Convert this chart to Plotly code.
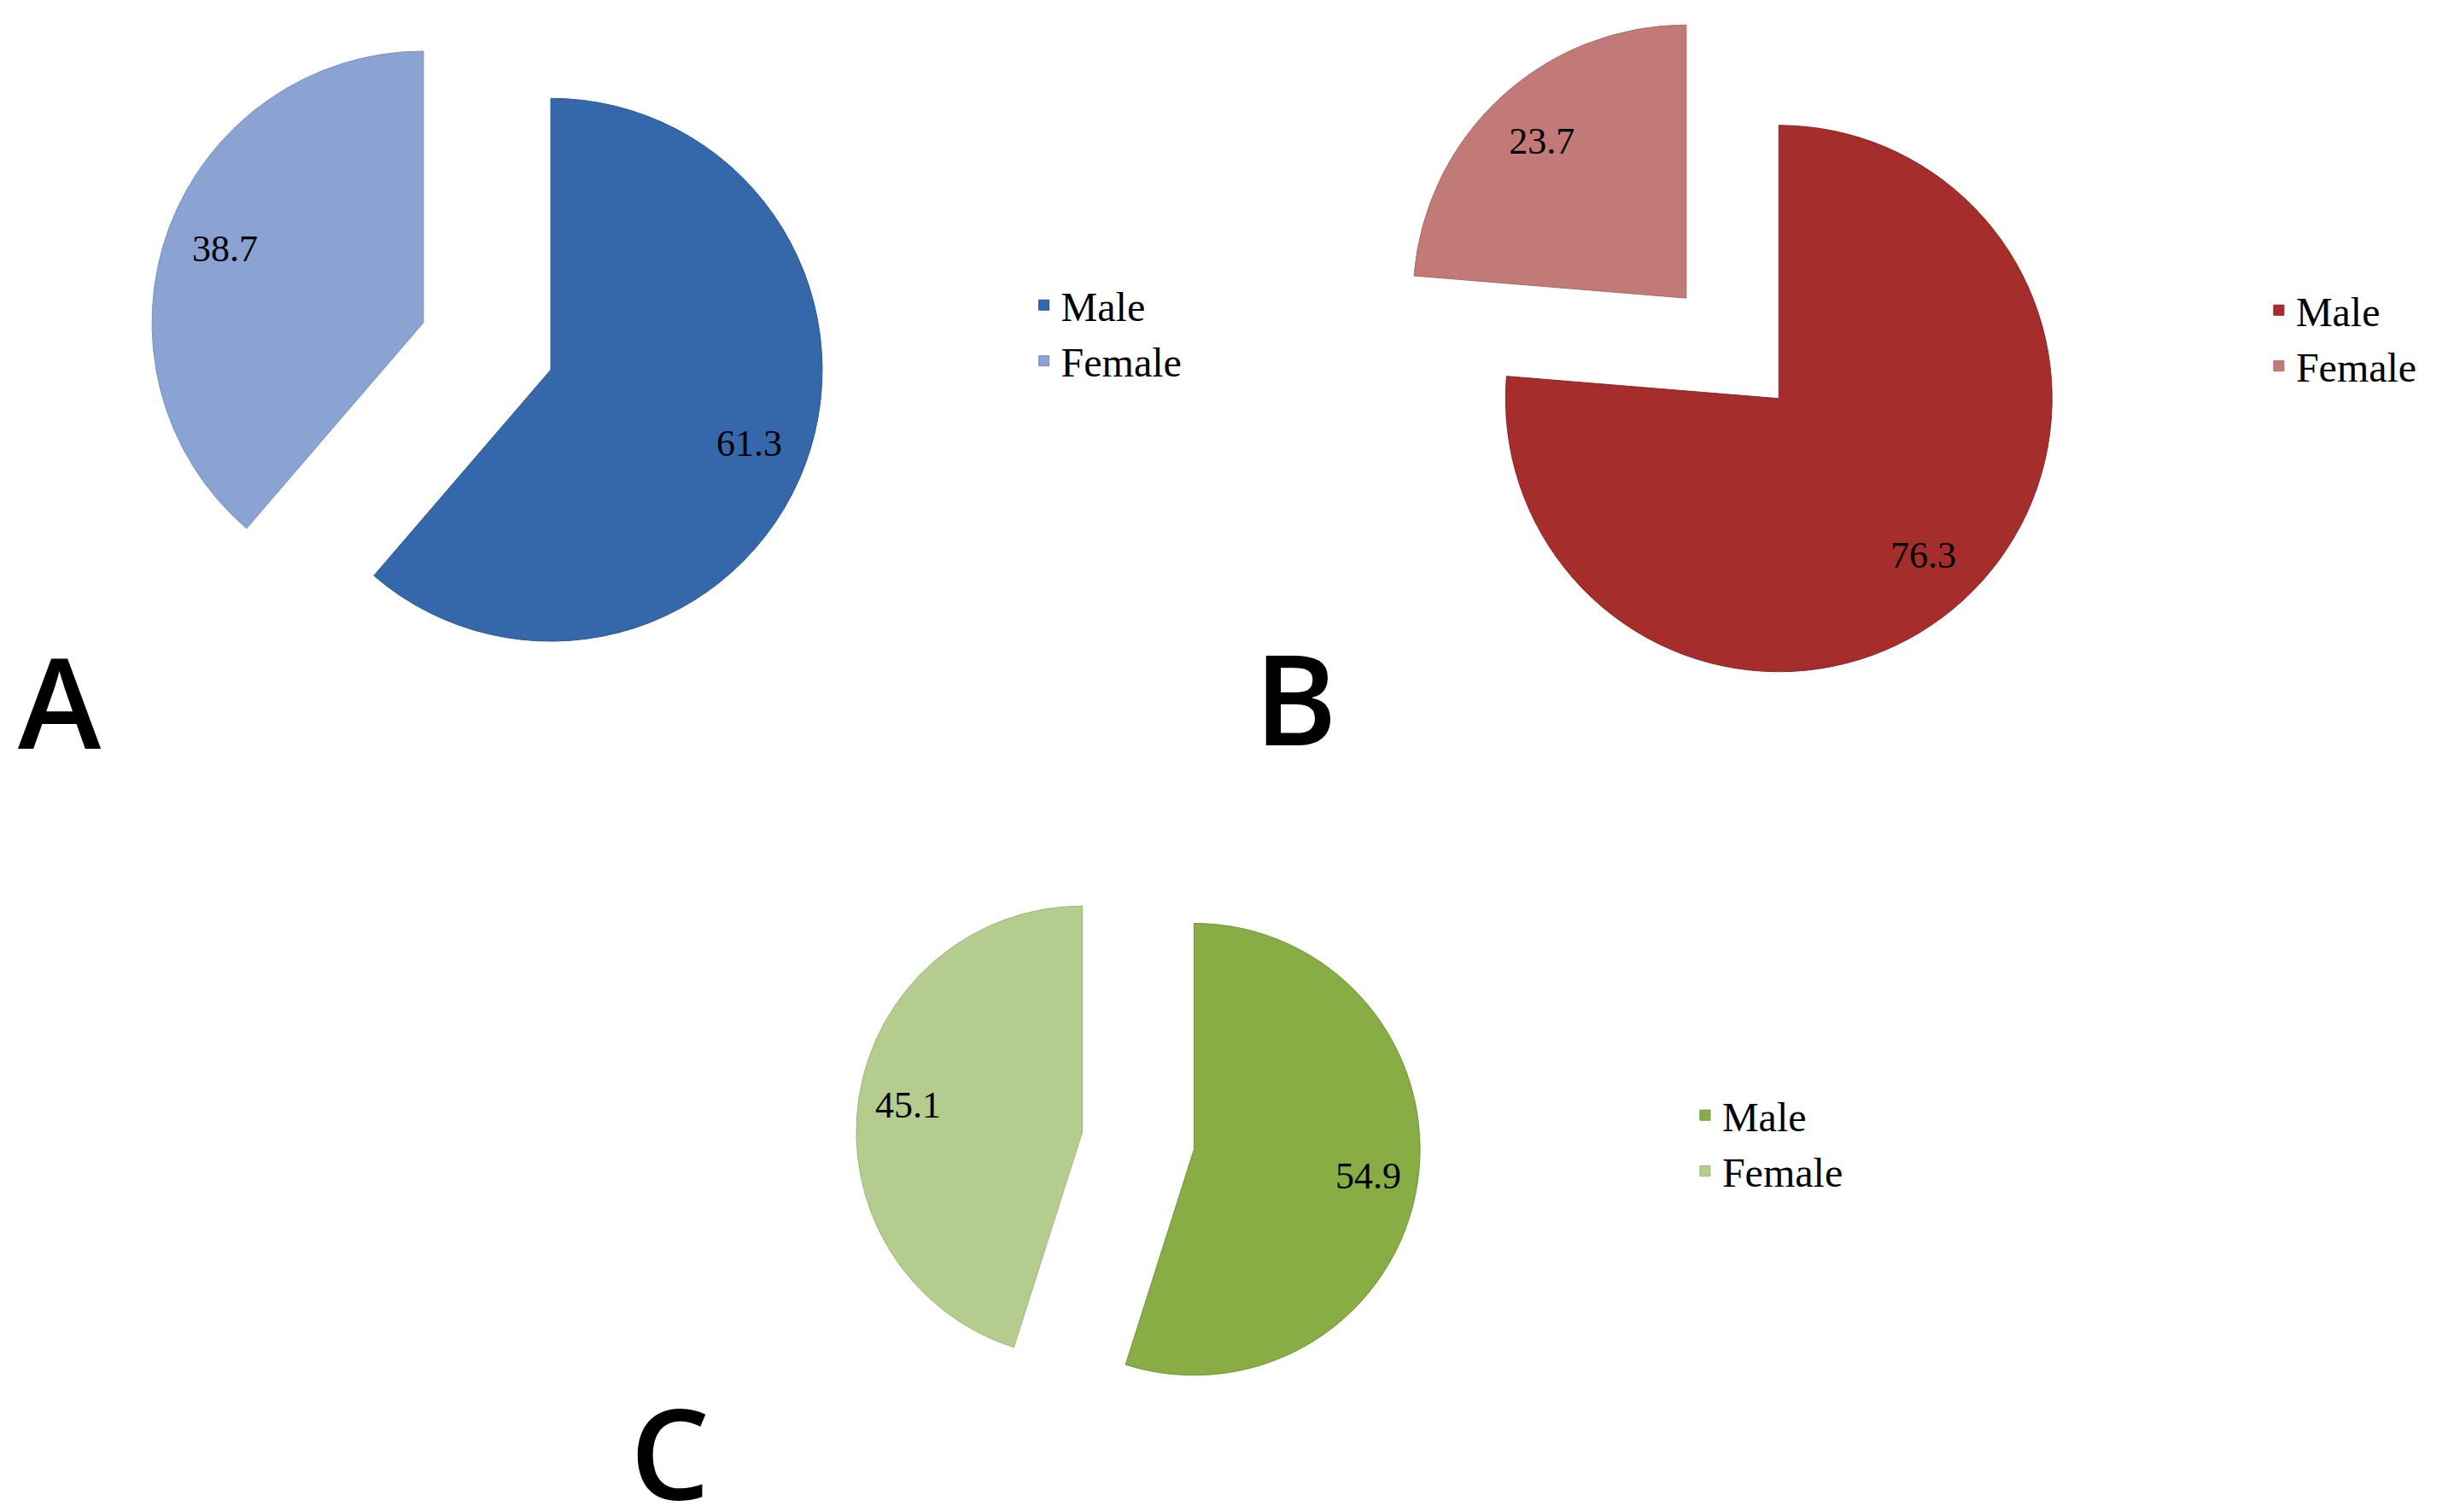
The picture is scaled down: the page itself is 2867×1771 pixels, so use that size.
import plotly.graph_objects as go

labels = ['Male', 'Female']
values_a = [61.3, 38.7]
values_b = [76.3, 23.7]
values_c = [54.9, 45.1]
panel_letters = ['A', 'B', 'C']

colors_a = ['#3567ab', '#8aa3d2']
colors_b = ['#a52e2d', '#c27a78']
colors_c = ['#89ad45', '#b4cd8e']
edges_a = ['#2d5893', '#7a92bd']
edges_b = ['#872626', '#a86b69']
edges_c = ['#739238', '#9db67a']

W, H = 2851, 1755
label_font = dict(family='Liberation Serif', size=44, color='black')
legend_font = dict(family='Liberation Serif', size=48, color='black')


def make_pie(values, colors, edges, domain, legend, group):
    # the filled pie itself, no labels on it
    return go.Pie(
        labels=labels, values=values, sort=False, direction='clockwise', rotation=0,
        pull=[0.25, 0.25],
        marker=dict(colors=colors, line=dict(color=edges, width=1)),
        textinfo='none', domain=domain, legend=legend, legendgroup=group,
        hoverinfo='label+value'
    )


def make_text_ring(values, domain):
    # transparent donut on top, so the values sit near the outer edge like Excel
    return go.Pie(
        labels=labels, values=values, sort=False, direction='clockwise', rotation=0,
        pull=[0.25, 0.25], hole=0.56,
        marker=dict(colors=['rgba(0,0,0,0)', 'rgba(0,0,0,0)'], line=dict(width=0)),
        textinfo='value', textposition='inside', insidetextorientation='horizontal',
        textfont=label_font, domain=domain, showlegend=False, hoverinfo='skip'
    )


dom_a = dict(x=[0.0579, 0.3367], y=[0.547, 1.0])
dom_b = dict(x=[0.5686, 0.8492], y=[0.5442, 1.0])
dom_c = dict(x=[0.3487, 0.5808], y=[0.0547, 0.4319])

fig = go.Figure()
fig.add_trace(make_pie(values_a, colors_a, edges_a, dom_a, 'legend', 'A'))
fig.add_trace(make_pie(values_b, colors_b, edges_b, dom_b, 'legend2', 'B'))
fig.add_trace(make_pie(values_c, colors_c, edges_c, dom_c, 'legend3', 'C'))
fig.add_trace(make_text_ring(values_a, dom_a))
fig.add_trace(make_text_ring(values_b, dom_b))
fig.add_trace(make_text_ring(values_c, dom_c))

leg = dict(font=legend_font, bgcolor='rgba(0,0,0,0)', xanchor='left', yanchor='middle',
           orientation='v', traceorder='normal')

fig.update_layout(
    width=W, height=H,
    margin=dict(l=0, r=0, t=0, b=0),
    paper_bgcolor='white', plot_bgcolor='white',
    showlegend=True,
    legend=dict(leg, x=0.419, y=0.7823),
    legend2=dict(leg, x=0.9263, y=0.7789),
    legend3=dict(leg, x=0.6906, y=0.2416),
)

letter_pos = [(0.0217, 0.5373), (0.5296, 0.5396), (0.2722, 0.0359)]
for letter, (lx, ly) in zip(panel_letters, letter_pos):
    fig.add_annotation(text=letter, x=lx, y=ly, xref='paper', yref='paper',
                       xanchor='center', yanchor='middle', showarrow=False,
                       font=dict(family='Open Sans', size=147, color='black', weight=600))

fig.write_html("out.html")
